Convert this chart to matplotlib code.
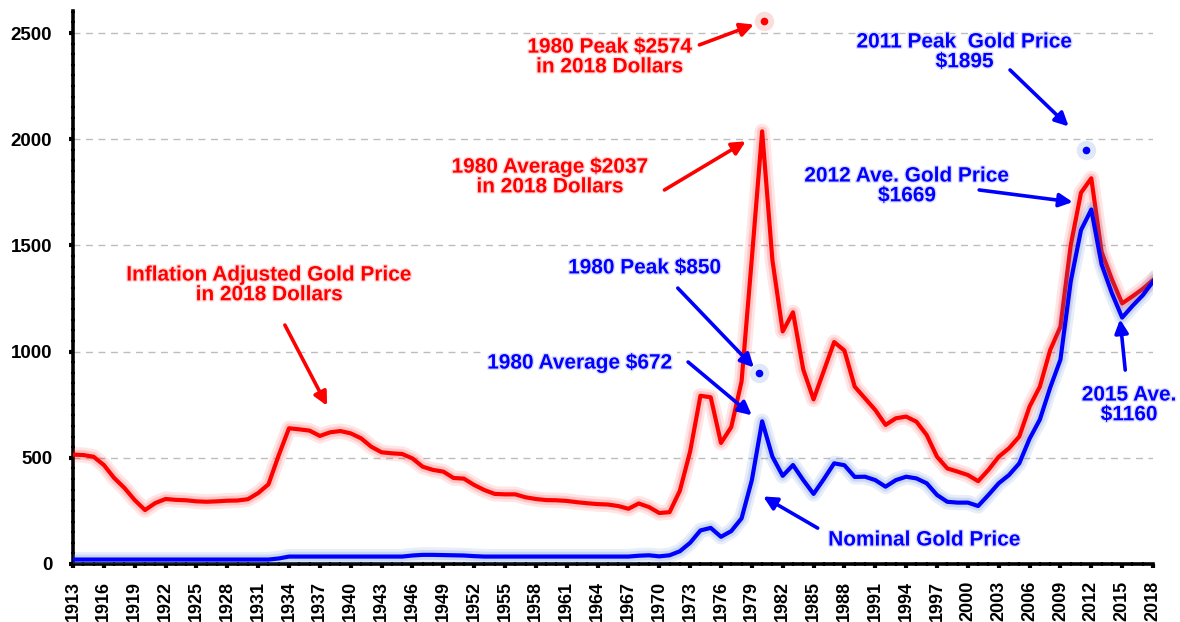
import numpy as np
import matplotlib
matplotlib.use("Agg")
import matplotlib.pyplot as plt
import matplotlib.patheffects as pe

plt.rcParams['font.family'] = ['Liberation Sans', 'DejaVu Sans']
plt.rcParams['font.weight'] = 'bold'

years = list(range(1913, 2019))

# inflation adjusted gold price, 2018 dollars
real_price = [
    515, 513, 505, 466, 405, 358, 301, 254, 287, 306,      # 1913-1922
    302, 300, 295, 293, 295, 298, 299, 305, 334, 375,      # 1923-1932
    512, 639, 634, 628, 603, 620, 626, 615, 592, 552,      # 1933-1942
    526, 521, 518, 497, 458, 443, 435, 405, 402, 372,      # 1943-1952
    348, 330, 328, 328, 314, 306, 301, 300, 297, 291,      # 1953-1962
    286, 282, 280, 273, 260, 285, 268, 240, 244, 345,      # 1963-1972
    530, 792, 785, 570, 645, 860, 1440, 2037, 1430, 1095,  # 1973-1982
    1185, 915, 775, 910, 1045, 1005, 835, 780, 725, 655,   # 1983-1992
    686, 694, 670, 607, 505, 450, 435, 419, 390, 443,      # 1993-2002
    505, 545, 600, 741, 835, 1007, 1117, 1500, 1748, 1816, # 2003-2012
    1470, 1340, 1227, 1260, 1295, 1337,                    # 2013-2018
]

# nominal gold price
nominal_price = [
    21, 21, 21, 21, 21, 21, 21, 21, 21, 21,                # 1913-1922
    21, 21, 21, 21, 21, 21, 21, 21, 21, 21,                # 1923-1932
    26, 35, 35, 35, 35, 35, 35, 35, 35, 35,                # 1933-1942
    35, 35, 35, 40, 43, 43, 42, 41, 40, 37,                # 1943-1952
    35, 35, 35, 35, 35, 35, 35, 35, 35, 35,                # 1953-1962
    35, 35, 35, 35, 35, 39, 41, 36, 41, 60,                # 1963-1972
    100, 158, 170, 128, 155, 215, 395, 672, 505, 415,      # 1973-1982
    466, 395, 330, 400, 474, 465, 410, 411, 395, 364,      # 1983-1992
    395, 411, 403, 380, 325, 293, 289, 289, 273, 325,      # 1993-2002
    380, 419, 474, 590, 680, 830, 962, 1330, 1572, 1669,   # 2003-2012
    1411, 1275, 1160, 1215, 1265, 1330,                    # 2013-2018
]

# highlighted peak dots
peak_years = [1980.2, 1979.7, 2011.5]
peak_values = [2555, 900, 1950]
peak_colors = ['red', 'blue', 'blue']

RED = '#ff0000'
BLUE = '#0000ff'

fig = plt.figure(figsize=(11.8, 6.22), dpi=100)
ax = fig.add_axes([73 / 1180, 58 / 622, 1080 / 1180, 553.3 / 622])

glow_red = [pe.Stroke(linewidth=11, foreground=RED, alpha=0.10, joinstyle='round'),
            pe.Stroke(linewidth=7, foreground=RED, alpha=0.14, joinstyle='round'),
            pe.Normal()]
glow_blue = [pe.Stroke(linewidth=11, foreground='#3a6fd0', alpha=0.12, joinstyle='round'),
             pe.Stroke(linewidth=7, foreground='#3a6fd0', alpha=0.16, joinstyle='round'),
             pe.Normal()]

ax.plot(years, real_price, color=RED, lw=3, solid_joinstyle='round',
        path_effects=glow_red, zorder=3)
ax.plot(years, nominal_price, color=BLUE, lw=3, solid_joinstyle='round',
        path_effects=glow_blue, zorder=4)

for px, pv, pc in zip(peak_years, peak_values, peak_colors):
    halo = '#f7c9c4' if pc == 'red' else '#cbd9f2'
    ax.plot(px, pv, 'o', ms=14, color=halo, alpha=0.6, mec='none', zorder=5)
    ax.plot(px, pv, 'o', ms=5.5, color=RED if pc == 'red' else BLUE, mec='none', zorder=6)

# annotations: text, colour, text centre, arrow tail, arrow head
notes = [
    ("1980 Peak $2574\nin 2018 Dollars", RED, (1965.2, 2387), (1973.9, 2444), (1979.2, 2540)),
    ("1980 Average $2037\nin 2018 Dollars", RED, (1959.4, 1822), (1970.5, 1761), (1978.4, 1990)),
    ("Inflation Adjusted Gold Price\nin 2018 Dollars", RED, (1932.1, 1314), (1933.6, 1125), (1937.7, 745)),
    ("1980 Peak $850", BLUE, (1968.6, 1394), (1971.8, 1299), (1979.2, 925)),
    ("1980 Average $672", BLUE, (1962.3, 946), (1972.8, 951), (1979.0, 700)),
    ("Nominal Gold Price", BLUE, (1995.8, 113), (1985.4, 169), (1980.1, 318)),
    ("2011 Peak  Gold Price\n$1895", BLUE, (1999.7, 2411), (2004.1, 2326), (2009.8, 2060)),
    ("2012 Ave. Gold Price\n$1669", BLUE, (1994.1, 1780), (2001.1, 1761), (2010.2, 1704)),
    ("2015 Ave.\n$1160", BLUE, (2015.7, 749), (2015.3, 913), (2014.8, 1152)),
]
for txt, col, pos, tail, head in notes:
    halo = '#ffd9d9' if col == RED else '#dcdcff'
    t = ax.text(pos[0], pos[1], txt, color=col, fontsize=15, fontweight='bold',
                ha='center', va='center', linespacing=1.05, zorder=7,
                path_effects=[pe.withStroke(linewidth=2, foreground=halo)])
    if txt.startswith("1980 Average $672"):
        t.set_bbox(dict(facecolor='white', edgecolor='none', pad=3))
    ax.annotate('', xy=head, xytext=tail, zorder=7,
                arrowprops=dict(arrowstyle='-|>', color=col, lw=2.6,
                                mutation_scale=20, shrinkA=0, shrinkB=0))

ax.set_xlim(1913, 2018)
ax.set_ylim(0, 2605)
ax.set_xticks(years[::3])
ax.set_xticklabels([str(y) for y in years[::3]], rotation=90)
ax.set_xticks(years, minor=True)
ax.set_yticks([0, 500, 1000, 1500, 2000, 2500])
ax.set_yticks(np.arange(0, 2601, 50), minor=True)

ax.tick_params(axis='both', which='major', length=3, width=3, direction='out')
ax.tick_params(axis='both', which='minor', length=3, width=1.6, direction='inout')
ax.tick_params(axis='y', which='major', labelsize=13.5, pad=12)
ax.tick_params(axis='x', which='major', labelsize=13, pad=9)
for lab in ax.get_xticklabels() + ax.get_yticklabels():
    lab.set_fontweight('bold')

for side in ['top', 'right']:
    ax.spines[side].set_visible(False)
for side in ['left', 'bottom']:
    ax.spines[side].set_linewidth(2.6)

ax.yaxis.grid(True, linestyle=(0, (5, 4)), color='#bdbdbd', lw=1)
ax.set_axisbelow(True)

fig.savefig('out.png', dpi=100)
